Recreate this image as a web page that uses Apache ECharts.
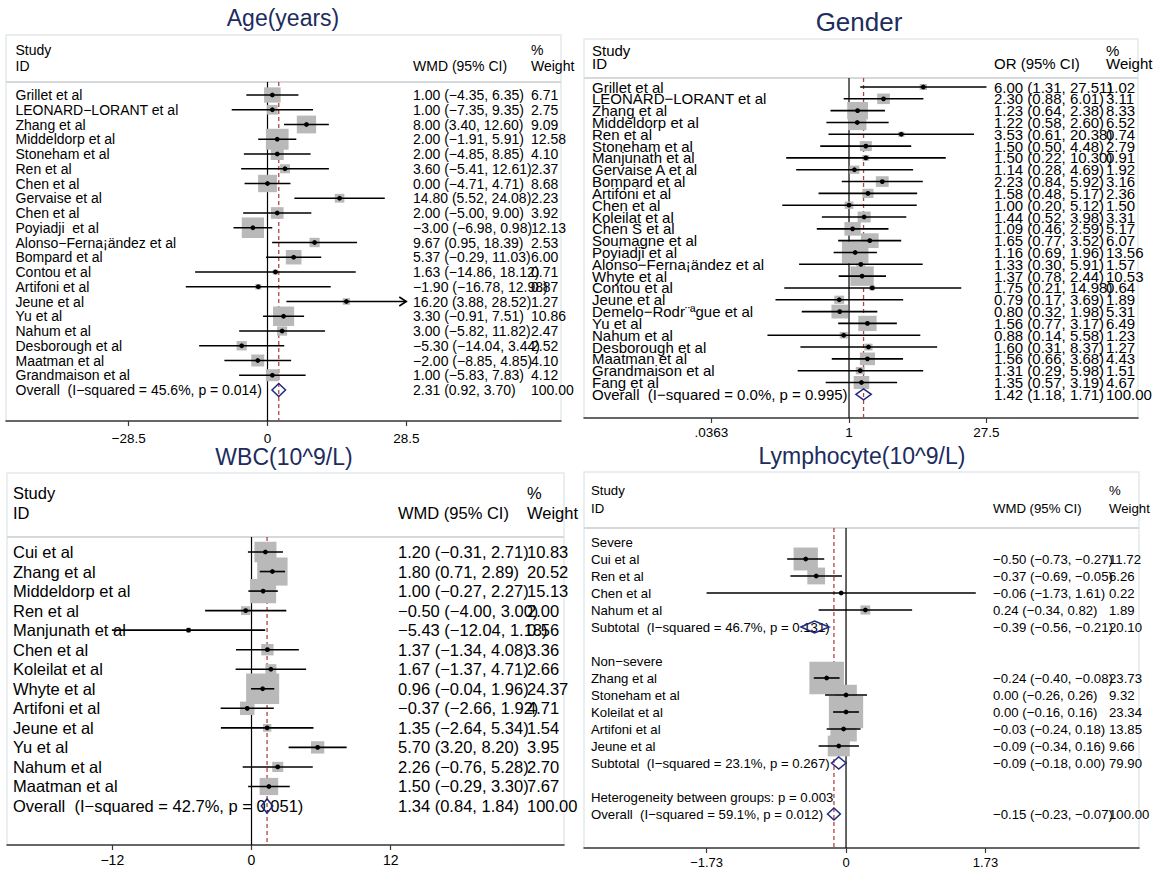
<!DOCTYPE html>
<html><head><meta charset="utf-8">
<script src="https://cdn.jsdelivr.net/npm/echarts@6/dist/echarts.min.js"></script>
<style>html,body{margin:0;padding:0;background:#fff}#c{width:1159px;height:871px}</style>
</head><body><div id="c"></div>
<script>
// ================= DATA =================
// --- Age(years) ---
const ageStudies = ['Grillet et al','LEONARD−LORANT et al','Zhang et al','Middeldorp et al','Stoneham et al','Ren et al','Chen et al','Gervaise et al','Chen et al','Poyiadji  et al','Alonso−Ferna¡ändez et al','Bompard et al','Contou et al','Artifoni et al','Jeune et al','Yu et al','Nahum et al','Desborough et al','Maatman et al','Grandmaison et al'];
const ageEst    = [1.00, 1.00, 8.00, 2.00, 2.00, 3.60, 0.00, 14.80, 2.00, -3.00, 9.67, 5.37, 1.63, -1.90, 16.20, 3.30, 3.00, -5.30, -2.00, 1.00];
const ageLow    = [-4.35, -7.35, 3.40, -1.91, -4.85, -5.41, -4.71, 5.52, -5.00, -6.98, 0.95, -0.29, -14.86, -16.78, 3.88, -0.91, -5.82, -14.04, -8.85, -5.83];
const ageHigh   = [6.35, 9.35, 12.60, 5.91, 8.85, 12.61, 4.71, 24.08, 9.00, 0.98, 18.39, 11.03, 18.12, 12.98, 28.52, 7.51, 11.82, 3.44, 4.85, 7.83];
const ageWeight = [6.71, 2.75, 9.09, 12.58, 4.10, 2.37, 8.68, 2.23, 3.92, 12.13, 2.53, 6.00, 0.71, 0.87, 1.27, 10.86, 2.47, 2.52, 4.10, 4.12];
const ageOverall = [2.31, 0.92, 3.70];
const ageOverallLabel = 'Overall  (I−squared = 45.6%, p = 0.014)';
const ageTicks = [-28.5, 0, 28.5];
const ageTickLabels = ['−28.5', '0', '28.5'];

// --- Gender ---
const genderStudies = ['Grillet et al','LEONARD−LORANT et al','Zhang et al','Middeldorp et al','Ren et al','Stoneham et al','Manjunath et al','Gervaise A et al','Bompard et al','Artifoni et al','Chen et al','Koleilat et al','Chen S et al','Soumagne et al','Poyiadji et al','Alonso−Ferna¡ändez et al','Whyte et al','Contou et al','Jeune et al','Demelo−Rodr¨ªgue et al','Yu et al','Nahum et al','Desborough et al','Maatman et al','Grandmaison et al','Fang et al'];
const genderOR     = [6.00, 2.30, 1.23, 1.22, 3.53, 1.50, 1.50, 1.14, 2.23, 1.58, 1.00, 1.44, 1.09, 1.65, 1.16, 1.33, 1.37, 1.75, 0.79, 0.80, 1.56, 0.88, 1.60, 1.56, 1.31, 1.35];
const genderLow    = [1.31, 0.88, 0.64, 0.58, 0.61, 0.50, 0.22, 0.28, 0.84, 0.48, 0.20, 0.52, 0.46, 0.77, 0.69, 0.30, 0.78, 0.21, 0.17, 0.32, 0.77, 0.14, 0.31, 0.66, 0.29, 0.57];
const genderHigh   = [27.51, 6.01, 2.38, 2.60, 20.38, 4.48, 10.30, 4.69, 5.92, 5.17, 5.12, 3.98, 2.59, 3.52, 1.96, 5.91, 2.44, 14.98, 3.69, 1.98, 3.17, 5.58, 8.37, 3.68, 5.98, 3.19];
const genderWeight = [1.02, 3.11, 8.33, 6.52, 0.74, 2.79, 0.91, 1.92, 3.16, 2.36, 1.50, 3.31, 5.17, 6.07, 13.56, 1.57, 10.53, 0.64, 1.89, 5.31, 6.49, 1.23, 1.27, 4.43, 1.51, 4.67];
const genderOverall = [1.42, 1.18, 1.71];
const genderOverallLabel = 'Overall  (I−squared = 0.0%, p = 0.995)';
const genderTicks = [0.0363, 1, 27.5];
const genderTickLabels = ['.0363', '1', '27.5'];

// --- WBC(10^9/L) ---
const wbcStudies = ['Cui et al','Zhang et al','Middeldorp et al','Ren et al','Manjunath et al','Chen et al','Koleilat et al','Whyte et al','Artifoni et al','Jeune et al','Yu et al','Nahum et al','Maatman et al'];
const wbcEst    = [1.20, 1.80, 1.00, -0.50, -5.43, 1.37, 1.67, 0.96, -0.37, 1.35, 5.70, 2.26, 1.50];
const wbcLow    = [-0.31, 0.71, -0.27, -4.00, -12.04, -1.34, -1.37, -0.04, -2.66, -2.64, 3.20, -0.76, -0.29];
const wbcHigh   = [2.71, 2.89, 2.27, 3.00, 1.18, 4.08, 4.71, 1.96, 1.92, 5.34, 8.20, 5.28, 3.30];
const wbcWeight = [10.83, 20.52, 15.13, 2.00, 0.56, 3.36, 2.66, 24.37, 4.71, 1.54, 3.95, 2.70, 7.67];
const wbcOverall = [1.34, 0.84, 1.84];
const wbcOverallLabel = 'Overall  (I−squared = 42.7%, p = 0.051)';
const wbcTicks = [-12, 0, 12];
const wbcTickLabels = ['−12', '0', '12'];

// --- Lymphocyte(10^9/L) ---
const lymSevereStudies = ['Cui et al','Ren et al','Chen et al','Nahum et al'];
const lymSevereEst    = [-0.50, -0.37, -0.06, 0.24];
const lymSevereLow    = [-0.73, -0.69, -1.73, -0.34];
const lymSevereHigh   = [-0.27, -0.05, 1.61, 0.82];
const lymSevereWeight = [11.72, 6.26, 0.22, 1.89];
const lymSevereSubtotal = [-0.39, -0.56, -0.21];
const lymSevereSubWeight = 20.10;
const lymSevereSubLabel = 'Subtotal  (I−squared = 46.7%, p = 0.131)';
const lymNonStudies = ['Zhang et al','Stoneham et al','Koleilat et al','Artifoni et al','Jeune et al'];
const lymNonEst    = [-0.24, 0.00, 0.00, -0.03, -0.09];
const lymNonLow    = [-0.40, -0.26, -0.16, -0.24, -0.34];
const lymNonHigh   = [-0.08, 0.26, 0.16, 0.18, 0.16];
const lymNonWeight = [23.73, 9.32, 23.34, 13.85, 9.66];
const lymNonSubtotal = [-0.09, -0.18, 0.00];
const lymNonSubWeight = 79.90;
const lymNonSubLabel = 'Subtotal  (I−squared = 23.1%, p = 0.267)';
const lymHeterogeneity = 'Heterogeneity between groups: p = 0.003';
const lymOverall = [-0.15, -0.23, -0.07];
const lymOverallLabel = 'Overall  (I−squared = 59.1%, p = 0.012)';
const lymTicks = [-1.73, 0, 1.73];
const lymTickLabels = ['−1.73', '0', '1.73'];

// ================= BUILD =================
const FONT = '"Liberation Sans", Arial, Helvetica, sans-serif';
function studyRows(names, est, lo, hi, w) {
  return names.map((n, i) => ({kind: 'study', name: n, est: est[i], lo: lo[i], hi: hi[i], w: w[i]}));
}
function pooledRow(label, v, w) { return {kind: 'pooled', name: label, est: v[0], lo: v[1], hi: v[2], w: w}; }
function fmt(v) { return (v < 0 ? '−' : '') + Math.abs(v).toFixed(2); }

const panels = [
  { title: 'Age(years)', effect: 'WMD (95% CI)', axisType: 'value', nullValue: 0, pooledRef: ageOverall[0],
    ticks: ageTicks, tickLabels: ageTickLabels,
    rows: [...studyRows(ageStudies, ageEst, ageLow, ageHigh, ageWeight), pooledRow(ageOverallLabel, ageOverall, 100)],
    L: {box: [6, 35, 561, 421], sep: 82, row0: 95, step: 14.75, xMin: -53.70, xMax: 60.27,
        nameX: 15.5, ciX: 413, wX: 531, font: 14, headY: [50, 66], titleX: 283, titleY: 18, titleSize: 23,
        tickMargin: 10, tickFont: 13.5, kw: 6.4, kh: 5.9, dH: 6.5, arrowMax: 28.5} },
  { title: 'Gender', effect: 'OR (95% CI)', axisType: 'log', nullValue: 1, pooledRef: genderOverall[0],
    ticks: genderTicks, tickLabels: genderTickLabels,
    rows: [...studyRows(genderStudies, genderOR, genderLow, genderHigh, genderWeight), pooledRow(genderOverallLabel, genderOverall, 100)],
    L: {box: [584, 39, 1138, 418], sep: 78, row0: 87, step: 11.82, xMin: 0.001679, xMax: 1062,
        nameX: 592, ciX: 994, wX: 1106, font: 15, headY: [50, 63.5], titleX: 859, titleY: 22, titleSize: 26,
        tickMargin: 7.5, tickFont: 13.5, kw: 7.2, kh: 6.0, dH: 5.5, arrowMax: null} },
  { title: 'WBC(10^9/L)', effect: 'WMD (95% CI)', axisType: 'value', nullValue: 0, pooledRef: wbcOverall[0],
    ticks: wbcTicks, tickLabels: wbcTickLabels,
    rows: [...studyRows(wbcStudies, wbcEst, wbcLow, wbcHigh, wbcWeight), pooledRow(wbcOverallLabel, wbcOverall, 100)],
    L: {box: [7, 473, 564, 845], sep: 537, row0: 552, step: 19.54, xMin: -21.08, xMax: 26.94,
        nameX: 13, ciX: 398, wX: 527, font: 16.5, headY: [493, 513], titleX: 284, titleY: 457, titleSize: 23,
        tickMargin: 8, tickFont: 14, kw: 6.7, kh: 6.2, dH: 7, arrowMax: null} },
  { title: 'Lymphocyte(10^9/L)', effect: 'WMD (95% CI)', axisType: 'value', nullValue: 0, pooledRef: lymOverall[0],
    ticks: lymTicks, tickLabels: lymTickLabels,
    rows: [
      {kind: 'label', name: 'Severe'},
      ...studyRows(lymSevereStudies, lymSevereEst, lymSevereLow, lymSevereHigh, lymSevereWeight),
      pooledRow(lymSevereSubLabel, lymSevereSubtotal, lymSevereSubWeight),
      {kind: 'blank', name: ''},
      {kind: 'label', name: 'Non−severe'},
      ...studyRows(lymNonStudies, lymNonEst, lymNonLow, lymNonHigh, lymNonWeight),
      pooledRow(lymNonSubLabel, lymNonSubtotal, lymNonSubWeight),
      {kind: 'blank', name: ''},
      {kind: 'label', name: lymHeterogeneity},
      pooledRow(lymOverallLabel, lymOverall, 100)
    ],
    L: {box: [584, 472, 1139, 848], sep: 528, row0: 542, step: 17.0, xMin: -3.251, xMax: 3.635,
        nameX: 591, ciX: 993, wX: 1109, font: 13.2, headY: [490, 508], titleX: 862, titleY: 456, titleSize: 23,
        tickMargin: 7.5, tickFont: 13, kw: 7.1, kh: 6.7, dH: 6, arrowMax: null} }
];

const grids = [], xAxes = [], yAxes = [], series = [], graphics = [];
const TITLE_COLOR = '#202c5e', BOX_FILL = '#b9b9b9', DIAMOND = '#1f2a7c', REFRED = '#b5443f';

function txt(text, x, y, size, color, align) {
  return {type: 'text', x: x, y: y, silent: true, z: 10,
    style: {text: text, fontSize: size, fontFamily: FONT, fill: color || '#000',
            align: align || 'left', verticalAlign: 'middle', textAlign: align || 'left', textVerticalAlign: 'middle'}};
}

panels.forEach((p, pi) => {
  const L = p.L;
  const [bl, bt, br, bb] = L.box;
  grids.push({left: bl, top: L.sep, width: br - bl, height: bb - L.sep});
  const fmtTick = (v) => {
    let i = p.ticks.findIndex(t => Math.abs(t - v) <= 1e-6 * Math.max(1, Math.abs(t)));
    if (i < 0) i = p.ticks.findIndex(t => Math.abs(t - Math.pow(10, v)) <= 1e-6 * Math.max(1, Math.abs(t)));
    return i >= 0 ? p.tickLabels[i] : '';
  };
  xAxes.push({
    gridIndex: pi, type: p.axisType, logBase: 10, min: L.xMin, max: L.xMax, position: 'bottom',
    axisLine: {show: true, onZero: false, lineStyle: {color: '#3a3a3a', width: 1.5}},
    axisTick: {show: true, customValues: p.ticks, length: 5, lineStyle: {color: '#3a3a3a', width: 1.2}},
    axisLabel: {show: true, customValues: p.ticks, formatter: fmtTick, margin: L.tickMargin,
                fontSize: L.tickFont, fontFamily: FONT, color: '#000'},
    splitLine: {show: false}, minorTick: {show: false}
  });
  yAxes.push({gridIndex: pi, type: 'value', inverse: true,
    min: (L.sep - L.row0) / L.step, max: (bb - L.row0) / L.step, show: false, splitLine: {show: false}});

  // reference lines: null effect (solid) and pooled estimate (dashed)
  series.push({
    type: 'custom', xAxisIndex: pi, yAxisIndex: pi, z: 1, silent: true, clip: false,
    data: [[p.nullValue, 0], [p.pooledRef, 0]],
    renderItem: (params, api) => {
      const cs = params.coordSys;
      const x = api.coord([api.value(0), 0])[0];
      const isNull = params.dataIndex === 0;
      return {type: 'line', shape: {x1: x, y1: cs.y, x2: x, y2: cs.y + cs.height},
        style: isNull ? {stroke: '#000', lineWidth: 1.2} : {stroke: REFRED, lineWidth: 1.3, lineDash: [4, 3]}};
    }
  });

  const studies = [];
  const pooled = [];
  p.rows.forEach((r, i) => {
    if (r.kind === 'study') studies.push([r.est, i, r.w, r.lo, r.hi]);
    if (r.kind === 'pooled') pooled.push([r.est, i, r.lo, r.hi]);
  });

  // weight boxes
  series.push({
    type: 'custom', xAxisIndex: pi, yAxisIndex: pi, z: 2, silent: true, clip: false,
    encode: {x: 0, y: 1}, data: studies,
    renderItem: (params, api) => {
      const c = api.coord([api.value(0), api.value(1)]);
      const s = Math.sqrt(api.value(2));
      const w = L.kw * s, h = L.kh * s;
      return {type: 'rect', shape: {x: c[0] - w / 2, y: c[1] - h / 2, width: w, height: h}, style: {fill: BOX_FILL}};
    }
  });

  // row texts
  series.push({
    type: 'custom', xAxisIndex: pi, yAxisIndex: pi, z: 3, silent: true, clip: false,
    encode: {x: 0, y: 1}, data: p.rows.map((r, i) => [p.nullValue, i]),
    renderItem: (params, api) => {
      const r = p.rows[params.dataIndex];
      if (r.kind === 'blank') return null;
      const y = api.coord([p.nullValue, api.value(1)])[1];
      const kids = [txt(r.name, L.nameX, y, L.font)];
      if (r.kind === 'study' || r.kind === 'pooled') {
        kids.push(txt(fmt(r.est) + ' (' + fmt(r.lo) + ', ' + fmt(r.hi) + ')', L.ciX, y, L.font));
        kids.push(txt(r.w.toFixed(2), L.wX, y, L.font));
      }
      return {type: 'group', children: kids};
    }
  });

  // CI lines, point estimates
  series.push({
    type: 'custom', xAxisIndex: pi, yAxisIndex: pi, z: 4, silent: true, clip: false,
    encode: {x: [0, 3, 4], y: 1}, data: studies,
    renderItem: (params, api) => {
      const est = api.value(0), row = api.value(1), lo = api.value(3), hi0 = api.value(4);
      const clipHi = L.arrowMax != null && hi0 > L.arrowMax;
      const hi = clipHi ? L.arrowMax : hi0;
      const a = api.coord([lo, row]), b = api.coord([hi, row]), c = api.coord([est, row]);
      const kids = [
        {type: 'line', shape: {x1: a[0], y1: a[1], x2: b[0], y2: b[1]}, style: {stroke: '#000', lineWidth: 1.6}},
        {type: 'circle', shape: {cx: c[0], cy: c[1], r: 2.4}, style: {fill: '#000'}}
      ];
      if (clipHi) kids.push({type: 'polyline', shape: {points: [[b[0] - 7, b[1] - 4.5], [b[0], b[1]], [b[0] - 7, b[1] + 4.5]]},
        style: {stroke: '#000', lineWidth: 1.6, fill: 'none'}});
      return {type: 'group', children: kids};
    }
  });

  // pooled diamonds
  series.push({
    type: 'custom', xAxisIndex: pi, yAxisIndex: pi, z: 5, silent: true, clip: false,
    encode: {x: [0, 2, 3], y: 1}, data: pooled,
    renderItem: (params, api) => {
      const row = api.value(1);
      const c = api.coord([api.value(0), row]), a = api.coord([api.value(2), row]), b = api.coord([api.value(3), row]);
      return {type: 'polygon', shape: {points: [[a[0], c[1]], [c[0], c[1] - L.dH], [b[0], c[1]], [c[0], c[1] + L.dH]]},
        style: {fill: 'none', stroke: DIAMOND, lineWidth: 1.5}};
    }
  });

  // frame, header, title
  graphics.push({type: 'rect', silent: true, z: 0, shape: {x: bl, y: bt, width: br - bl, height: bb - bt},
    style: {fill: 'none', stroke: '#e2eaec', lineWidth: 1.5}});
  graphics.push({type: 'line', silent: true, z: 0, shape: {x1: bl, y1: L.sep, x2: br, y2: L.sep},
    style: {stroke: '#d6d9db', lineWidth: 2.2}});
  graphics.push(txt('Study', L.nameX, L.headY[0], L.font));
  graphics.push(txt('ID', L.nameX, L.headY[1], L.font));
  graphics.push(txt(p.effect, L.ciX, L.headY[1], L.font));
  graphics.push(txt('%', L.wX, L.headY[0], L.font));
  graphics.push(txt('Weight', L.wX, L.headY[1], L.font));
  graphics.push(txt(p.title, L.titleX, L.titleY, L.titleSize, TITLE_COLOR, 'center'));
});

const chart = echarts.init(document.getElementById('c'), null, {renderer: 'svg', width: 1159, height: 871});
chart.setOption({
  backgroundColor: '#fff',
  animation: false,
  grid: grids, xAxis: xAxes, yAxis: yAxes, series: series,
  graphic: {elements: graphics}
});
</script>
</body></html>
